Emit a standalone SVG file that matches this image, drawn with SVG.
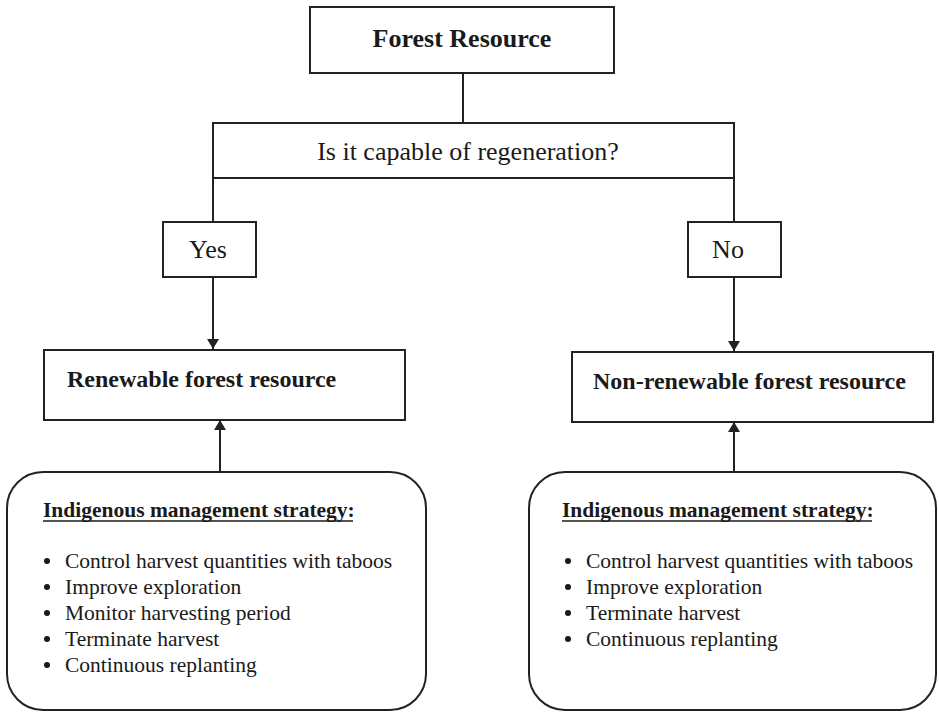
<svg xmlns="http://www.w3.org/2000/svg" width="939" height="715" viewBox="0 0 939 715">
<style>
.box{fill:#ffffff;stroke:#222;stroke-width:2}
.ln{stroke:#222;stroke-width:2;fill:none}
.t{font-family:"Liberation Serif","Times New Roman",serif;fill:#1a1a1a}
.b{font-weight:bold}
.c{text-anchor:middle}
.li{font-size:21.5px}
.hd{font-size:21.5px;font-weight:bold}
.dot{fill:#1a1a1a}
</style>
<defs>
<marker id="ah" markerWidth="12" markerHeight="14" refX="10" refY="6" orient="auto" markerUnits="userSpaceOnUse">
<path d="M0,0 L10,6 L0,12 Z" fill="#222"/>
</marker>
</defs>
<rect width="939" height="715" fill="#ffffff"/>
<g id="connectors">
<line class="ln" x1="463" y1="73" x2="463" y2="123"/>
<line class="ln" x1="213" y1="178" x2="213" y2="222"/>
<line class="ln" x1="734" y1="178" x2="734" y2="222"/>
<line class="ln" x1="213" y1="277" x2="213" y2="349" marker-end="url(#ah)"/>
<line class="ln" x1="734" y1="277" x2="734" y2="351" marker-end="url(#ah)"/>
<line class="ln" x1="220" y1="472" x2="220" y2="420" marker-end="url(#ah)"/>
<line class="ln" x1="734" y1="472" x2="734" y2="422" marker-end="url(#ah)"/>
</g>
<g id="forest-resource">
<rect class="box" x="310" y="7" width="304" height="66"/>
<text class="t b c" x="462" y="47" font-size="26">Forest Resource</text>
</g>
<g id="question">
<rect class="box" x="213" y="123" width="521" height="55"/>
<text class="t c" x="468" y="160" font-size="26">Is it capable of regeneration?</text>
</g>
<g id="yes">
<rect class="box" x="163" y="222" width="93" height="55"/>
<text class="t c" x="208" y="258" font-size="26">Yes</text>
</g>
<g id="no">
<rect class="box" x="688" y="222" width="93" height="55"/>
<text class="t c" x="728" y="258" font-size="26">No</text>
</g>
<g id="renewable">
<rect class="box" x="44" y="350" width="361" height="70"/>
<text class="t b" x="67" y="387" font-size="24">Renewable forest resource</text>
</g>
<g id="non-renewable">
<rect class="box" x="572" y="352" width="361" height="70"/>
<text class="t b" x="593" y="389" font-size="24">Non-renewable forest resource</text>
</g>
<g id="strategy-left">
<rect class="box" x="7" y="472" width="419" height="238" rx="36" ry="36"/>
<text class="t hd" x="43" y="517">Indigenous management strategy:</text>
<line x1="43" y1="521" x2="353" y2="521" stroke="#1a1a1a" stroke-width="1.5"/>
<circle class="dot" cx="47" cy="561" r="3"/>
<text class="t li" x="65" y="568">Control harvest quantities with taboos</text>
<circle class="dot" cx="47" cy="587" r="3"/>
<text class="t li" x="65" y="594">Improve exploration</text>
<circle class="dot" cx="47" cy="613" r="3"/>
<text class="t li" x="65" y="620">Monitor harvesting period</text>
<circle class="dot" cx="47" cy="639" r="3"/>
<text class="t li" x="65" y="646">Terminate harvest</text>
<circle class="dot" cx="47" cy="665" r="3"/>
<text class="t li" x="65" y="672">Continuous replanting</text>
</g>
<g id="strategy-right">
<rect class="box" x="529" y="472" width="407" height="238" rx="36" ry="36"/>
<text class="t hd" x="562" y="517">Indigenous management strategy:</text>
<line x1="562" y1="521" x2="872" y2="521" stroke="#1a1a1a" stroke-width="1.5"/>
<circle class="dot" cx="568" cy="561" r="3"/>
<text class="t li" x="586" y="568">Control harvest quantities with taboos</text>
<circle class="dot" cx="568" cy="587" r="3"/>
<text class="t li" x="586" y="594">Improve exploration</text>
<circle class="dot" cx="568" cy="613" r="3"/>
<text class="t li" x="586" y="620">Terminate harvest</text>
<circle class="dot" cx="568" cy="639" r="3"/>
<text class="t li" x="586" y="646">Continuous replanting</text>
</g>
</svg>
